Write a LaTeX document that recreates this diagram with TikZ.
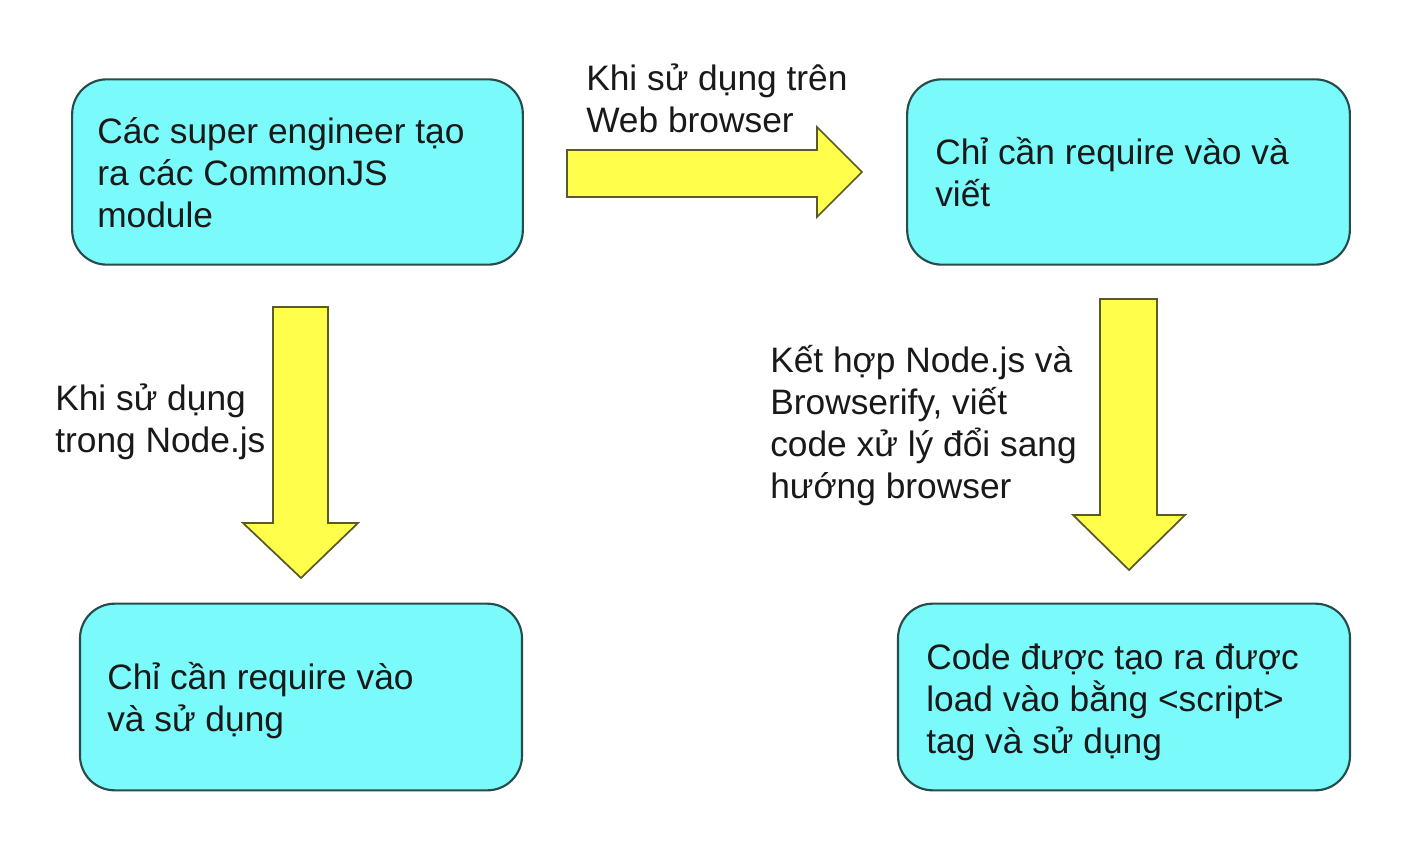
\documentclass[tikz,border=0pt]{standalone}
\usepackage{fontspec}
\setmainfont{Liberation Sans}
\definecolor{boxfill}{RGB}{122,250,250}
\definecolor{boxline}{RGB}{40,75,75}
\definecolor{arrfill}{RGB}{255,255,75}
\definecolor{arrline}{RGB}{90,90,40}
\definecolor{txt}{RGB}{25,25,25}
\begin{document}
\begin{tikzpicture}[x=0.75pt,y=-0.75pt,
  box/.style={draw=boxline, fill=boxfill, line width=1.6pt, rounded corners=26pt, inner sep=0pt},
  blockarrow/.style={draw=arrline, fill=arrfill, line width=1.3pt, line join=miter},
  lbl/.style={anchor=base west, align=left, inner sep=0pt, text=txt,
    font=\fontsize{26.5}{31.5}\selectfont}]
\useasboundingbox[fill=white] (0,0) rectangle (1401,862);
% boxes
\node[box, minimum width=338pt, minimum height=139pt] (b1) at (297.5,172) {};
\node[box, minimum width=332pt, minimum height=139pt] (b2) at (1128.5,172) {};
\node[box, minimum width=331.5pt, minimum height=140pt] (b3) at (301,697) {};
\node[box, minimum width=339pt, minimum height=140pt] (b4) at (1124,697) {};
% block arrows
\draw[blockarrow] (567,150) -- (817,150) -- (817,127) -- (862,172) -- (817,217) -- (817,197) -- (567,197) -- cycle;
\draw[blockarrow] (273,307) -- (328,307) -- (328,523) -- (358,523) -- (301,578) -- (243,523) -- (273,523) -- cycle;
\draw[blockarrow] (1100,299) -- (1157,299) -- (1157,515) -- (1185,515) -- (1129,570) -- (1073,515) -- (1100,515) -- cycle;
% texts (anchored at the baseline of the last line)
\node[lbl] (t1) at (97,228) {Các super engineer tạo\\ra các CommonJS\\module};
\node[lbl] (t2) at (935,207) {Chỉ cần require vào và\\viết};
\node[lbl] (t3) at (107,731) {Chỉ cần require vào\\và sử dụng};
\node[lbl] (t4) at (926,753) {Code được tạo ra được\\load vào bằng <script>\\tag và sử dụng};
\node[lbl] (l1) at (586,133) {Khi sử dụng trên\\Web browser};
\node[lbl] (l2) at (55,452) {Khi sử dụng\\trong Node.js};
\node[lbl] (l3) at (770,498) {Kết hợp Node.js và\\Browserify, viết\\code xử lý đổi sang\\hướng browser};
\end{tikzpicture}
\end{document}
